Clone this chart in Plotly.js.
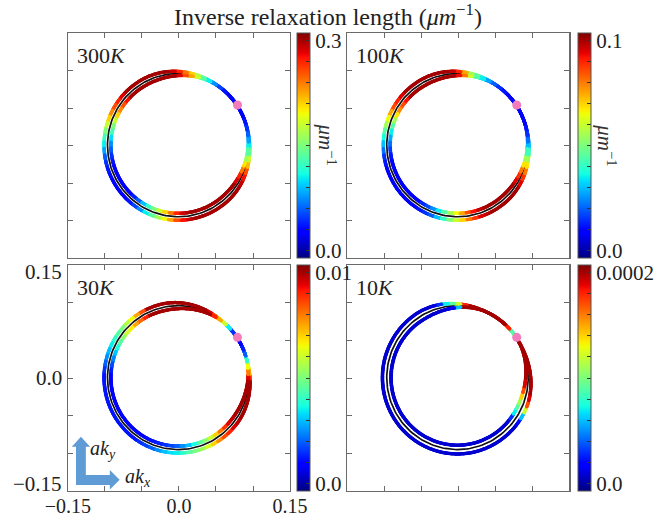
<!DOCTYPE html>
<html>
<head>
<meta charset="utf-8">
<script src="https://cdn.plot.ly/plotly-3.0.1.min.js"></script>
<style>
  html, body { margin: 0; padding: 0; background: #fff; }
  #chart { width: 659px; height: 517px; }
</style>
</head>
<body>
<div id="chart"></div>
<script>
// ---------------------------------------------------------------------------
// Data
// ---------------------------------------------------------------------------
const temperatures = ['300', '100', '30', '10'];
const colorbarMax = [0.3, 0.1, 0.01, 0.0002];
const colorbarTopText = ['0.3', '0.1', '0.01', '0.0002'];
const colorbarBottomText = '0.0';
const axisTickValues = [-0.15, 0.0, 0.15];
const axisTickText = ['\u22120.15', '0.0', '0.15'];

// polar angle (deg) of each sample along the Fermi contour: 0, 5, ..., 355
const sampleAngles = [
  0, 5, 10, 15, 20, 25, 30, 35, 40, 45, 50, 55, 60, 65, 70, 75, 80, 85,
  90, 95, 100, 105, 110, 115, 120, 125, 130, 135, 140, 145, 150, 155, 160, 165, 170, 175,
  180, 185, 190, 195, 200, 205, 210, 215, 220, 225, 230, 235, 240, 245, 250, 255, 260, 265,
  270, 275, 280, 285, 290, 295, 300, 305, 310, 315, 320, 325, 330, 335, 340, 345, 350, 355];

// inverse relaxation length (um^-1) on the outer / inner sheet of each contour
const outer300K = [
  0.105, 0.081, 0.06, 0.045, 0.036, 0.03, 0.03, 0.03, 0.03, 0.03, 0.036, 0.051, 0.075, 0.105, 0.135, 0.171, 0.21, 0.24,
  0.27, 0.288, 0.3, 0.3, 0.3, 0.3, 0.3, 0.3, 0.3, 0.3, 0.285, 0.27, 0.255, 0.234, 0.21, 0.18, 0.15, 0.126,
  0.105, 0.081, 0.06, 0.045, 0.036, 0.033, 0.03, 0.03, 0.03, 0.03, 0.036, 0.051, 0.075, 0.105, 0.135, 0.165, 0.195, 0.225,
  0.255, 0.276, 0.291, 0.3, 0.3, 0.3, 0.3, 0.3, 0.3, 0.3, 0.3, 0.3, 0.291, 0.276, 0.255, 0.219, 0.18, 0.141];
const inner300K = [
  0.105, 0.081, 0.06, 0.045, 0.036, 0.03, 0.03, 0.03, 0.03, 0.03, 0.036, 0.051, 0.075, 0.105, 0.135, 0.18, 0.225, 0.255,
  0.285, 0.3, 0.3, 0.3, 0.3, 0.3, 0.3, 0.3, 0.3, 0.3, 0.276, 0.255, 0.234, 0.21, 0.18, 0.15, 0.126, 0.099,
  0.075, 0.06, 0.045, 0.036, 0.03, 0.03, 0.03, 0.03, 0.03, 0.03, 0.039, 0.06, 0.09, 0.12, 0.15, 0.18, 0.21, 0.24,
  0.27, 0.288, 0.3, 0.3, 0.3, 0.3, 0.3, 0.3, 0.3, 0.3, 0.3, 0.3, 0.285, 0.27, 0.24, 0.204, 0.165, 0.135];

const outer100K = [
  0.03, 0.022, 0.015, 0.012, 0.01, 0.009, 0.008, 0.008, 0.008, 0.009, 0.012, 0.015, 0.02, 0.027, 0.035, 0.045, 0.055, 0.075,
  0.09, 0.097, 0.1, 0.1, 0.1, 0.1, 0.1, 0.1, 0.1, 0.1, 0.095, 0.09, 0.085, 0.075, 0.065, 0.055, 0.045, 0.037,
  0.03, 0.022, 0.015, 0.012, 0.01, 0.01, 0.01, 0.01, 0.01, 0.01, 0.01, 0.01, 0.012, 0.015, 0.02, 0.03, 0.04, 0.05,
  0.06, 0.07, 0.08, 0.088, 0.095, 0.098, 0.1, 0.1, 0.1, 0.1, 0.1, 0.1, 0.095, 0.088, 0.08, 0.068, 0.055, 0.042];
const inner100K = [
  0.03, 0.022, 0.015, 0.012, 0.01, 0.009, 0.008, 0.008, 0.008, 0.009, 0.012, 0.015, 0.02, 0.027, 0.035, 0.045, 0.06, 0.08,
  0.093, 0.1, 0.1, 0.1, 0.1, 0.1, 0.1, 0.1, 0.1, 0.1, 0.092, 0.085, 0.078, 0.068, 0.055, 0.045, 0.035, 0.028,
  0.022, 0.016, 0.012, 0.01, 0.01, 0.01, 0.01, 0.01, 0.01, 0.01, 0.01, 0.01, 0.014, 0.018, 0.025, 0.035, 0.045, 0.055,
  0.065, 0.075, 0.085, 0.092, 0.097, 0.1, 0.1, 0.1, 0.1, 0.1, 0.1, 0.1, 0.095, 0.088, 0.08, 0.068, 0.055, 0.042];

const outer30K = [
  0.009, 0.0075, 0.006, 0.004, 0.002, 0.0013, 0.001, 0.001, 0.0015, 0.003, 0.0055, 0.007, 0.0085, 0.0095, 0.01, 0.01, 0.01, 0.01,
  0.01, 0.01, 0.01, 0.01, 0.01, 0.01, 0.0085, 0.0075, 0.0065, 0.0057, 0.005, 0.0045, 0.004, 0.0035, 0.003, 0.0025, 0.002, 0.0015,
  0.0012, 0.0012, 0.0012, 0.0012, 0.0012, 0.0012, 0.0012, 0.0012, 0.0012, 0.0012, 0.0012, 0.0012, 0.0015, 0.0017, 0.002, 0.0025, 0.003, 0.0033,
  0.0035, 0.004, 0.0045, 0.005, 0.0055, 0.0062, 0.007, 0.0078, 0.0085, 0.009, 0.0095, 0.0098, 0.01, 0.01, 0.01, 0.01, 0.01, 0.01];
const inner30K = [
  0.0095, 0.008, 0.0065, 0.004, 0.002, 0.0013, 0.001, 0.001, 0.0015, 0.0035, 0.006, 0.0075, 0.009, 0.01, 0.01, 0.01, 0.01, 0.01,
  0.01, 0.01, 0.01, 0.01, 0.01, 0.01, 0.009, 0.0082, 0.0075, 0.0067, 0.006, 0.0052, 0.0045, 0.0037, 0.003, 0.0024, 0.0018, 0.0013,
  0.001, 0.001, 0.001, 0.001, 0.001, 0.001, 0.001, 0.001, 0.001, 0.001, 0.001, 0.001, 0.001, 0.0011, 0.0012, 0.0013, 0.0015, 0.0017,
  0.002, 0.0025, 0.003, 0.0037, 0.0045, 0.0052, 0.006, 0.007, 0.008, 0.0088, 0.0095, 0.0098, 0.01, 0.01, 0.01, 0.01, 0.01, 0.01];

const outer10K = [
  2.0e-4, 2.0e-4, 2.0e-4, 2.0e-4, 2.0e-4, 2.0e-4, 2.0e-4, 1.2e-4, 0.7e-4, 1.7e-4, 2.0e-4, 2.0e-4, 2.0e-4, 2.0e-4, 2.0e-4, 2.0e-4, 2.0e-4, 1.8e-4,
  1.2e-4, 0.9e-4, 0.7e-4, 0.3e-4, 0.1e-4, 0.08e-4, 0.08e-4, 0.08e-4, 0.08e-4, 0.08e-4, 0.08e-4, 0.08e-4, 0.08e-4, 0.08e-4, 0.08e-4, 0.08e-4, 0.08e-4, 0.08e-4,
  0.08e-4, 0.08e-4, 0.08e-4, 0.08e-4, 0.08e-4, 0.08e-4, 0.08e-4, 0.08e-4, 0.08e-4, 0.08e-4, 0.08e-4, 0.08e-4, 0.08e-4, 0.08e-4, 0.08e-4, 0.08e-4, 0.08e-4, 0.08e-4,
  0.08e-4, 0.08e-4, 0.08e-4, 0.08e-4, 0.08e-4, 0.08e-4, 0.08e-4, 0.08e-4, 0.08e-4, 0.08e-4, 0.08e-4, 0.2e-4, 0.6e-4, 1.2e-4, 1.7e-4, 1.9e-4, 2.0e-4, 2.0e-4];
const inner10K = [
  2.0e-4, 2.0e-4, 2.0e-4, 2.0e-4, 2.0e-4, 2.0e-4, 2.0e-4, 1.0e-4, 0.9e-4, 1.8e-4, 2.0e-4, 2.0e-4, 2.0e-4, 2.0e-4, 2.0e-4, 2.0e-4, 2.0e-4, 2.0e-4,
  0.6e-4, 0.2e-4, 0.1e-4, 0.08e-4, 0.08e-4, 0.08e-4, 0.08e-4, 0.08e-4, 0.08e-4, 0.08e-4, 0.08e-4, 0.08e-4, 0.08e-4, 0.08e-4, 0.08e-4, 0.08e-4, 0.08e-4, 0.08e-4,
  0.08e-4, 0.08e-4, 0.08e-4, 0.08e-4, 0.08e-4, 0.08e-4, 0.08e-4, 0.08e-4, 0.08e-4, 0.08e-4, 0.08e-4, 0.08e-4, 0.08e-4, 0.08e-4, 0.08e-4, 0.08e-4, 0.08e-4, 0.08e-4,
  0.08e-4, 0.08e-4, 0.08e-4, 0.08e-4, 0.08e-4, 0.08e-4, 0.08e-4, 0.08e-4, 0.08e-4, 0.08e-4, 0.08e-4, 0.3e-4, 0.7e-4, 0.9e-4, 1.1e-4, 1.4e-4, 1.7e-4, 1.9e-4];

const outerSheets = [outer300K, outer100K, outer30K, outer10K];
const innerSheets = [inner300K, inner100K, inner30K, inner10K];

// Fermi contour geometry in (a kx, a ky)
const contourCenter = [-0.001, 0.0005];
const contourRadius = 0.0955;
const sheetGapMax = [0.0046, 0.0046, 0.0046, 0.0058];  // largest half separation of the two sheets
const pinchAngle = [35, 35, 32, 48];                    // where the sheets touch (deg)
const pinchHalfWidth = [15, 15, 12, 15];                // deg on either side where they stay together
const openingSpan = [70, 70, 60, 60];                   // deg over which they separate
const hotSpot = [0.079, 0.054];

// ---------------------------------------------------------------------------
// Styles / layout helpers
// ---------------------------------------------------------------------------
const W = 659, H = 517;
const SERIF = 'Liberation Serif, Times New Roman, serif';
const FRAME = '#6a6a6a';
const jet = [
  [0.0, 'rgb(0,0,128)'], [0.11, 'rgb(0,0,255)'], [0.125, 'rgb(0,0,255)'],
  [0.34, 'rgb(0,219,255)'], [0.35, 'rgb(0,230,247)'], [0.375, 'rgb(21,255,226)'],
  [0.64, 'rgb(239,255,8)'], [0.65, 'rgb(247,245,0)'], [0.66, 'rgb(255,236,0)'],
  [0.89, 'rgb(255,19,0)'], [0.91, 'rgb(232,0,0)'], [1.0, 'rgb(128,0,0)']
];

const px = x => x / W;
const py = y => 1 - y / H;

const colLeft = [69, 353];      // frame left edges (px)
const colWidth = 226;
const rowTop = [33, 265];       // frame top edges (px)
const rowHeight = [225, 226];
const cbarLeft = [302, 588];
const unitLabelX = [332, 616];

// half separation of the two sheets at polar angle t (deg)
function sheetGap(i, t) {
  let d = Math.abs(((t - pinchAngle[i]) % 360 + 540) % 360 - 180);
  let s = Math.min(1, Math.max(0, (d - pinchHalfWidth[i]) / openingSpan[i]));
  s = s * s * (3 - 2 * s);
  return sheetGapMax[i] * s;
}

function sheetPoints(i, sign, values) {
  const xs = [], ys = [], cs = [];
  sampleAngles.forEach((a, k) => {
    for (let d = -2.5; d < 2.5; d += 0.5) {
      const t = a + d;
      const r = contourRadius + sign * sheetGap(i, t);
      const rad = t * Math.PI / 180;
      xs.push(contourCenter[0] + r * Math.cos(rad));
      ys.push(contourCenter[1] + r * Math.sin(rad));
      cs.push(values[k]);
    }
  });
  return { xs, ys, cs };
}

function circlePath() {
  const xs = [], ys = [];
  for (let a = 0; a <= 360; a += 2) {
    const t = a * Math.PI / 180;
    xs.push(contourCenter[0] + contourRadius * Math.cos(t));
    ys.push(contourCenter[1] + contourRadius * Math.sin(t));
  }
  return { xs, ys };
}

const traces = [];
const layout = {
  width: W, height: H,
  margin: { l: 0, r: 0, t: 0, b: 0 },
  paper_bgcolor: '#fff', plot_bgcolor: '#fff',
  showlegend: false,
  font: { family: SERIF, color: '#222' },
  title: {
    text: 'Inverse relaxation length (<i>\u03bcm</i><sup>\u22121</sup>)',
    font: { family: SERIF, size: 24, color: '#222' },
    xref: 'container', yref: 'container',
    x: px(328), xanchor: 'center', y: py(17), yanchor: 'middle'
  },
  annotations: [],
  shapes: []
};

temperatures.forEach((T, i) => {
  const col = i % 2, row = Math.floor(i / 2);
  const n = i + 1;
  const xa = 'x' + n, ya = 'y' + n;
  const vmax = colorbarMax[i];
  const pad = 0.035 * vmax;

  const frameTicks = [-0.1, -0.05, 0, 0.05, 0.1];
  const labelled = (i === 2);
  const axisBase = {
    range: [-0.15, 0.15], showgrid: false, zeroline: false,
    showline: true, mirror: 'ticks', linecolor: FRAME, linewidth: 1.3,
    ticks: 'inside', ticklen: 5, tickwidth: 1, tickcolor: FRAME,
    fixedrange: true
  };
  const xaxis = Object.assign({}, axisBase, {
    domain: [px(colLeft[col]), px(colLeft[col] + colWidth)],
    anchor: ya,
    tickvals: frameTicks,
    showticklabels: false
  });
  if (labelled) {
    xaxis.tickvals = [-0.15, -0.1, -0.05, 0, 0.05, 0.1, 0.15];
    xaxis.ticktext = ['\u22120.15', ' ', ' ', '0.0', ' ', ' ', '0.15'];
    xaxis.showticklabels = true;
    xaxis.ticklabelstandoff = -3;
    xaxis.tickfont = { family: SERIF, size: 20, color: '#222' };
  }
  layout['xaxis' + n] = xaxis;
  layout['yaxis' + n] = Object.assign({}, axisBase, {
    domain: [py(rowTop[row] + rowHeight[row]), py(rowTop[row])],
    anchor: xa,
    tickvals: frameTicks,
    showticklabels: false
  });

  // equilibrium contour: black line with a white halo
  const ring = circlePath();
  traces.push({ type: 'scatter', mode: 'lines', x: ring.xs, y: ring.ys, xaxis: xa, yaxis: ya,
    line: { color: '#fff', width: 6 }, hoverinfo: 'skip' });
  traces.push({ type: 'scatter', mode: 'lines', x: ring.xs, y: ring.ys, xaxis: xa, yaxis: ya,
    line: { color: '#111', width: 1.7 }, hoverinfo: 'skip' });

  const cbY0 = py(rowTop[row] + rowHeight[row]), cbY1 = py(rowTop[row]);
  const tickvals = [], ticktext = [];
  for (let k = 0; k <= 10; k++) {
    tickvals.push(vmax * k / 10);
    ticktext.push(k === 0 ? colorbarBottomText : (k === 10 ? colorbarTopText[i] : ' '));
  }

  const outer = sheetPoints(i, +1, outerSheets[i]);
  traces.push({
    type: 'scatter', mode: 'markers', x: outer.xs, y: outer.ys, xaxis: xa, yaxis: ya,
    hoverinfo: 'skip',
    marker: {
      size: 3.5, color: outer.cs, colorscale: jet, cmin: -pad, cmax: vmax + pad,
      line: { width: 0 }, showscale: true,
      colorbar: {
        x: px(cbarLeft[col]), xanchor: 'left', xpad: 0, ypad: 0,
        y: (cbY0 + cbY1) / 2, yanchor: 'middle', len: cbY1 - cbY0, lenmode: 'fraction',
        thickness: 13, thicknessmode: 'pixels',
        outlinewidth: 1, outlinecolor: '#555',
        ticks: 'inside', ticklen: 4, tickwidth: 1, tickcolor: '#333',
        tickmode: 'array', tickvals: tickvals, ticktext: ticktext,
        tickfont: { family: SERIF, size: 21, color: '#222' }
      }
    }
  });
  const inner = sheetPoints(i, -1, innerSheets[i]);
  traces.push({
    type: 'scatter', mode: 'markers', x: inner.xs, y: inner.ys, xaxis: xa, yaxis: ya,
    hoverinfo: 'skip',
    marker: { size: 3.5, color: inner.cs, colorscale: jet, cmin: -pad, cmax: vmax + pad,
      line: { width: 0 }, showscale: false }
  });

  traces.push({
    type: 'scatter', mode: 'markers', x: [hotSpot[0]], y: [hotSpot[1]], xaxis: xa, yaxis: ya,
    hoverinfo: 'skip', marker: { size: 9, color: '#f27cbc', line: { width: 0 } }
  });

  // temperature label
  layout.annotations.push({
    xref: 'paper', yref: 'paper', x: px(colLeft[col] + 7), y: py(rowTop[row] + 8),
    xanchor: 'left', yanchor: 'top', showarrow: false,
    text: T + '<i>K</i>', font: { family: SERIF, size: 22, color: '#222' }
  });

  // colour-bar unit, top row only
  if (row === 0) {
    layout.annotations.push({
      xref: 'paper', yref: 'paper', x: px(unitLabelX[col]), y: py(145),
      xanchor: 'center', yanchor: 'middle', showarrow: false, textangle: 90,
      text: '<i>\u03bcm</i><sup>\u22121</sup>', font: { family: SERIF, size: 21, color: '#333' }
    });
  }
});

// y tick labels of the lower-left panel (end labels sit just inside the frame)
axisTickValues.forEach((v, k) => {
  layout.annotations.push({
    xref: 'paper', yref: 'y3', x: px(65), y: v, xanchor: 'right', yanchor: 'middle',
    yshift: v > 0 ? -7 : (v < 0 ? 7 : 0), showarrow: false,
    text: axisTickText[k], font: { family: SERIF, size: 21, color: '#222' }
  });
});

// k-space direction glyph
const glyph = [[77.3, 485], [77.3, 446.7], [73, 446.7], [82.3, 436.7], [91.6, 446.7], [87.3, 446.7],
  [87.3, 475], [111.7, 475], [111.7, 470], [121.7, 479.8], [111.7, 489.5], [111.7, 485]];
layout.shapes.push({
  type: 'path', xref: 'paper', yref: 'paper', layer: 'above',
  path: 'M ' + glyph.map(p => px(p[0]) + ',' + py(p[1])).join(' L ') + ' Z',
  fillcolor: '#5f9bd4', line: { width: 0 }
});
layout.annotations.push({
  xref: 'paper', yref: 'paper', x: px(89), y: py(449), xanchor: 'left', yanchor: 'middle',
  showarrow: false, text: '<i>ak<sub>y</sub></i>', font: { family: SERIF, size: 20, color: '#222' }
});
layout.annotations.push({
  xref: 'paper', yref: 'paper', x: px(125), y: py(477), xanchor: 'left', yanchor: 'middle',
  showarrow: false, text: '<i>ak<sub>x</sub></i>', font: { family: SERIF, size: 20, color: '#222' }
});

Plotly.newPlot('chart', traces, layout, { staticPlot: true, displayModeBar: false });
</script>
</body>
</html>
